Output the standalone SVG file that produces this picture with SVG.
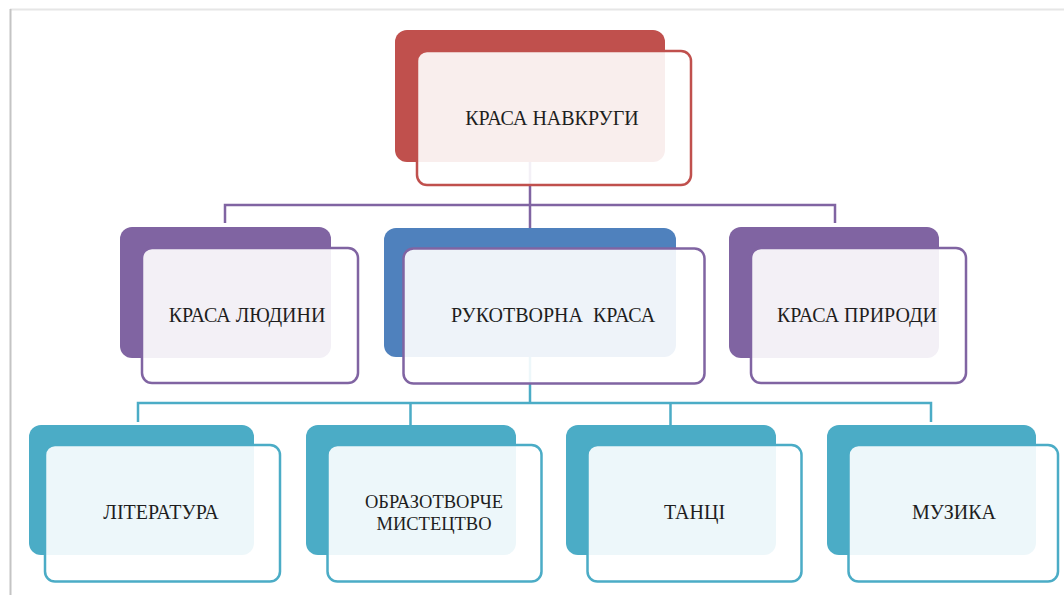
<svg xmlns="http://www.w3.org/2000/svg" width="1064" height="595" viewBox="0 0 1064 595">
  <defs>
    <style>
      .front { fill: #ffffff; fill-opacity: 0.9; stroke-width: 2.5; }
      .lbl { font-family: "Liberation Serif", "DejaVu Serif", serif; font-size: 20px; fill: #1e1e1e; text-anchor: middle; }
      .lbl2 { font-size: 18.5px; }
      .conn { fill: none; stroke-width: 2.5; }
      .red { fill: #c0504d; }
      .purple { fill: #8064a2; }
      .blue { fill: #4f81bd; }
      .teal { fill: #4bacc6; }
      .sred { stroke: #c0504d; }
      .spurple { stroke: #8064a2; }
      .steal { stroke: #4bacc6; }
    </style>
  </defs>
  <rect x="0" y="0" width="1064" height="595" fill="#ffffff"/>
  <g id="page-edge">
    <line x1="10" y1="9.5" x2="1064" y2="9.5" stroke="#e6e6e6" stroke-width="2"/>
    <line x1="10.5" y1="9" x2="10.5" y2="595" stroke="#c4c4c4" stroke-width="2"/>
  </g>
  <g id="connectors">
    <path class="conn spurple" d="M530 162 V205 M225 223 V205 H835 V223 M530 205 V228"/>
    <path class="conn steal" d="M530 357 V403 M138 422 V403 H931 V422 M410.5 403 V425 M670.5 403 V425"/>
  </g>
  <g id="node-root">
    <rect class="red" x="395" y="30" width="270" height="132" rx="12"/>
    <rect class="front sred" x="417" y="51" width="274" height="134" rx="10"/>
    <text class="lbl" x="552" y="125">КРАСА НАВКРУГИ</text>
  </g>
  <g id="node-lyudyny">
    <rect class="purple" x="120" y="227" width="211" height="131" rx="12"/>
    <rect class="front spurple" x="142" y="248" width="216" height="135" rx="10"/>
    <text class="lbl" x="247" y="322">КРАСА ЛЮДИНИ</text>
  </g>
  <g id="node-rukotvorna">
    <rect class="blue" x="384" y="228" width="292" height="129" rx="12"/>
    <rect class="front spurple" x="403.5" y="248.5" width="301" height="135" rx="10"/>
    <text class="lbl" x="553" y="322" xml:space="preserve">РУКОТВОРНА  КРАСА</text>
  </g>
  <g id="node-pryrody">
    <rect class="purple" x="729" y="227" width="210" height="131" rx="12"/>
    <rect class="front spurple" x="751" y="248" width="215" height="135" rx="10"/>
    <text class="lbl" x="857" y="322">КРАСА ПРИРОДИ</text>
  </g>
  <g id="node-literatura">
    <rect class="teal" x="29" y="425" width="225" height="130" rx="12"/>
    <rect class="front steal" x="45" y="445" width="235" height="136.5" rx="10"/>
    <text class="lbl" x="161" y="519">ЛІТЕРАТУРА</text>
  </g>
  <g id="node-obrazotvorche">
    <rect class="teal" x="306" y="425" width="210" height="130" rx="12"/>
    <rect class="front steal" x="327.5" y="445" width="214" height="136.5" rx="10"/>
    <text class="lbl lbl2" x="434" y="508"><tspan x="434">ОБРАЗОТВОРЧЕ</tspan><tspan x="434" dy="21.5">МИСТЕЦТВО</tspan></text>
  </g>
  <g id="node-tantsi">
    <rect class="teal" x="566" y="425" width="210" height="130" rx="12"/>
    <rect class="front steal" x="587.5" y="445" width="214" height="136.5" rx="10"/>
    <text class="lbl" x="694.5" y="519">ТАНЦІ</text>
  </g>
  <g id="node-muzyka">
    <rect class="teal" x="827" y="425" width="209" height="130" rx="12"/>
    <rect class="front steal" x="848.5" y="445" width="209.5" height="136.5" rx="10"/>
    <text class="lbl" x="954" y="519">МУЗИКА</text>
  </g>
</svg>
